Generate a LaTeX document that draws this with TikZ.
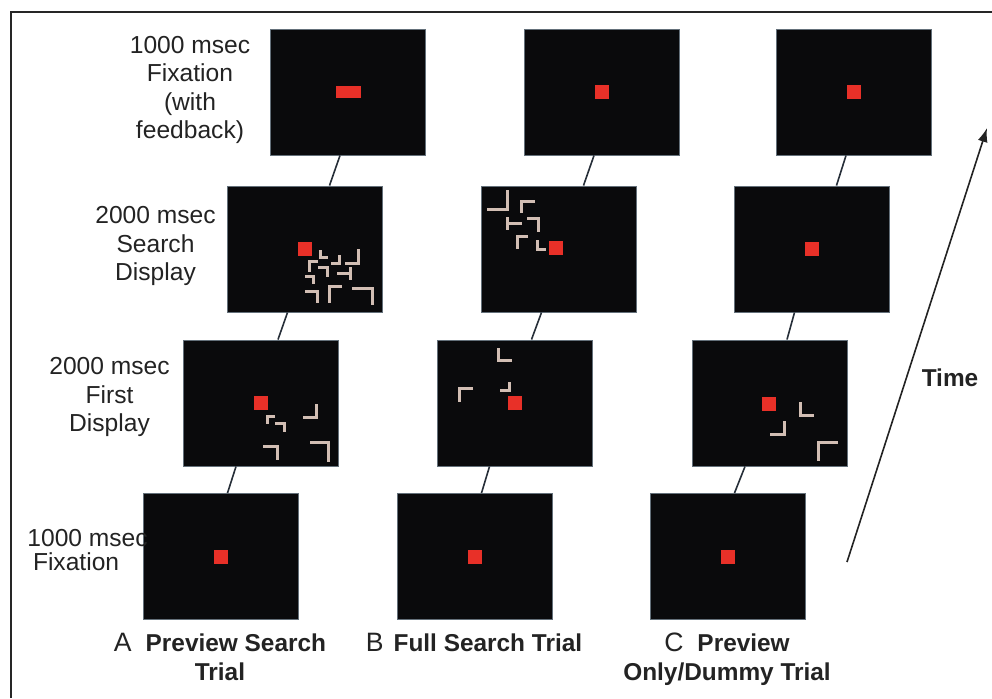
\documentclass[tikz,border=0pt]{standalone}
\usepackage{fontspec}
\setmainfont{Liberation Sans}
\usetikzlibrary{calc,arrows.meta}
\definecolor{fixred}{RGB}{232,48,40}
\definecolor{stimcol}{RGB}{210,190,180}
\definecolor{linkcol}{RGB}{38,46,56}
\definecolor{panelcol}{RGB}{10,10,12}
\definecolor{rimcol}{RGB}{100,112,122}
\definecolor{txtcol}{RGB}{35,35,35}
\newcommand{\trialletter}{\fontsize{13.3}{14.5}\selectfont\mdseries}
\tikzset{
  panel/.style={fill=panelcol, draw=rimcol, line width=0.5pt, minimum width=77.5pt, minimum height=63pt, inner sep=0pt},
  fixdot/.style={fill=fixred, minimum width=7pt, minimum height=7pt, inner sep=0pt},
  stim/.style={draw=stimcol, line width=1.5pt},
  link/.style={draw=linkcol, line width=0.8pt},
  steplab/.style={inner sep=0pt, text=txtcol, align=center, font=\fontsize{12.3}{14.2}\selectfont},
  triallab/.style={inner sep=0pt, text=txtcol, align=center, font=\fontsize{12.2}{14.5}\selectfont\bfseries}
}

\begin{document}
\begin{tikzpicture}[x=0.5pt, y=-0.5pt]
  \useasboundingbox (0,0) rectangle (992,698);
  %frame
  \draw[line width=1pt, black!85] (11,698) -- (11,12) -- (992,12);

  %panels
  \node[panel] (A1) at (348,92) {};
  \node[panel] (B1) at (602,92) {};
  \node[panel] (C1) at (854,92) {};
  \node[panel] (A2) at (304.5,249) {};
  \node[panel] (B2) at (558.5,249) {};
  \node[panel] (C2) at (811.5,249) {};
  \node[panel] (A3) at (261,403) {};
  \node[panel] (B3) at (514.5,403) {};
  \node[panel] (C3) at (770,403) {};
  \node[panel] (A4) at (220.5,556.5) {};
  \node[panel] (B4) at (474.5,556.5) {};
  \node[panel] (C4) at (727.5,556.5) {};

  %fixation points
  \node[fixdot, minimum width=12.5pt, minimum height=6pt] (fA1) at (A1) {};
  \node[fixdot] (fB1) at (B1) {};
  \node[fixdot] (fC1) at (C1) {};
  \node[fixdot] (fA2) at (A2) {};
  \node[fixdot] (fB2) at (556,247.5) {};
  \node[fixdot] (fC2) at (C2) {};
  \node[fixdot] (fA3) at (A3) {};
  \node[fixdot] (fB3) at (B3) {};
  \node[fixdot] (fC3) at (769,403.5) {};
  \node[fixdot] (fA4) at (A4) {};
  \node[fixdot] (fB4) at (B4) {};
  \node[fixdot] (fC4) at (C4) {};

  %links
  \draw[link] ($(A1.south)+(-8,0)$) -- ($(A2.north)+(25,0)$);
  \draw[link] ($(A2.south)+(-17,0)$) -- ($(A3.north)+(17,0)$);
  \draw[link] ($(A3.south)+(-25,0)$) -- ($(A4.north)+(7,0)$);
  \draw[link] ($(B1.south)+(-8,0)$) -- ($(B2.north)+(25,0)$);
  \draw[link] ($(B2.south)+(-17,0)$) -- ($(B3.north)+(17,0)$);
  \draw[link] ($(B3.south)+(-25,0)$) -- ($(B4.north)+(7,0)$);
  \draw[link] ($(C1.south)+(-8,0)$) -- ($(C2.north)+(25,0)$);
  \draw[link] ($(C2.south)+(-17,0)$) -- ($(C3.north)+(17,0)$);
  \draw[link] ($(C3.south)+(-25,0)$) -- ($(C4.north)+(7,0)$);

  %search display A
  \draw[stim] (320,250) -- (320,257) -- (328,257);
  \draw[stim] (331,263) -- (339,263) -- (339,255);
  \draw[stim] (345,263) -- (358,263) -- (358,249);
  \draw[stim] (318,261) -- (309,261) -- (309,272);
  \draw[stim] (318,267) -- (327,267) -- (327,277);
  \draw[stim] (337,273) -- (350,273);
  \draw[stim] (350,267) -- (350,280);
  \draw[stim] (305,276) -- (313,276) -- (313,284);
  \draw[stim] (305,291) -- (317,291) -- (317,303);
  \draw[stim] (342,286) -- (329,286) -- (329,303);
  \draw[stim] (352,288) -- (372,288) -- (372,305);
  %search display B
  \draw[stim] (487,209) -- (507,209) -- (507,190);
  \draw[stim] (535,201) -- (521,201) -- (521,213);
  \draw[stim] (507,217) -- (507,230);
  \draw[stim] (507,223) -- (522,223);
  \draw[stim] (527,218) -- (538,218) -- (538,232);
  \draw[stim] (528,236) -- (517,236) -- (517,249);
  \draw[stim] (537,240) -- (537,249) -- (546,249);
  %first display A
  \draw[stim] (303,417) -- (316,417) -- (316,404);
  \draw[stim] (275,416) -- (267,416) -- (267,424);
  \draw[stim] (275,423) -- (284,423) -- (284,432);
  \draw[stim] (263,446) -- (277,446) -- (277,460);
  \draw[stim] (310,442) -- (328,442) -- (328,462);
  %first display B
  \draw[stim] (498,348) -- (498,360) -- (512,360);
  \draw[stim] (500,390) -- (509,390) -- (509,382);
  \draw[stim] (473,388) -- (459,388) -- (459,402);
  %first display C
  \draw[stim] (800,402) -- (800,415) -- (814,415);
  \draw[stim] (770,434) -- (784,434) -- (784,421);
  \draw[stim] (838,442) -- (818,442) -- (818,461);

  %step labels
  \node[steplab] (lab1) at (190,90) {1000 msec\\Fixation\\(with\\feedback)};
  \node[steplab] (lab2) at (155.5,246) {2000 msec\\Search\\Display};
  \node[steplab] (lab3) at (109.5,397) {2000 msec\\First\\Display};
  \node[steplab, anchor=west, align=left, font=\fontsize{12.3}{11.7}\selectfont] (lab4) at (27,550) {1000 msec\\\hspace{2.8pt}Fixation};

  %trial labels
  \node[triallab] (labA) at (220,657) {{\trialletter A}\hspace{7pt}Preview Search\\Trial};
  \node[triallab] (labB) at (474,642.5) {{\trialletter B}\hspace{5pt}Full Search Trial};
  \node[triallab] (labC) at (727,659) {{\trialletter C}\hspace{7pt}Preview\\Only/Dummy Trial};

  %time
  \coordinate (t0) at (847,562);
  \coordinate (t1) at (987,128);
  \draw[line width=0.8pt, txtcol, -{Latex[length=7pt,width=5pt]}] (t0) -- (t1);
  \node[triallab] (tlab) at (950,378) {Time};
\end{tikzpicture}
\end{document}
